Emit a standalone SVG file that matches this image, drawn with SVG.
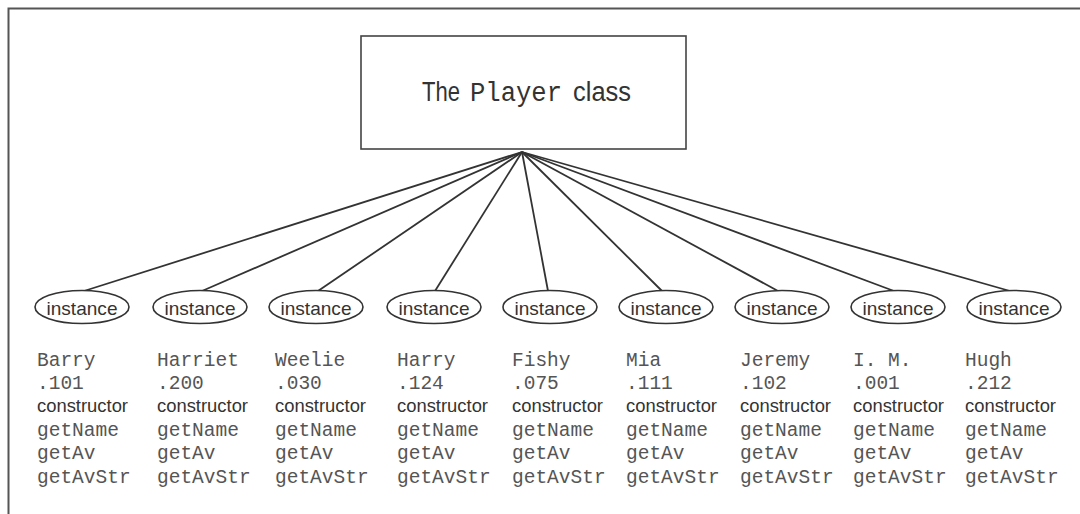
<svg xmlns="http://www.w3.org/2000/svg" width="1080" height="514" viewBox="0 0 1080 514">
<style>
.frame{fill:none;stroke:#555;stroke-width:2}
.box{fill:#fff;stroke:#444;stroke-width:1.6}
.conn{stroke:#333;stroke-width:1.8;fill:none}
.ell{fill:#fff;stroke:#333;stroke-width:1.6}
.sans{font-family:"Liberation Sans",Arial,sans-serif;fill:#333}
.mono{font-family:"Liberation Mono","Courier New",monospace;fill:#555;font-size:19.5px}
.inst{font-size:19px;text-anchor:middle}
.ctor{font-size:18px}
.title{font-size:27px;fill:#333}
</style>
<rect width="1080" height="514" fill="#fff"/>
<path class="frame" d="M8.5 514 V8.5 H1080"/>
<g id="player-class">
<rect class="box" x="361" y="36" width="325" height="113"/>
<text y="101"><tspan class="sans title" x="422" textLength="38" lengthAdjust="spacingAndGlyphs">The</tspan><tspan class="mono title" x="470" textLength="92" lengthAdjust="spacingAndGlyphs">Player</tspan><tspan class="sans title" x="573" textLength="58" lengthAdjust="spacingAndGlyphs">class</tspan></text>
</g>
<g id="connectors">
<line class="conn" x1="522" y1="152" x2="84" y2="291"/>
<line class="conn" x1="522" y1="152" x2="202" y2="291"/>
<line class="conn" x1="522" y1="152" x2="318" y2="291"/>
<line class="conn" x1="522" y1="152" x2="435" y2="291"/>
<line class="conn" x1="522" y1="152" x2="548" y2="291"/>
<line class="conn" x1="522" y1="152" x2="662" y2="291"/>
<line class="conn" x1="522" y1="152" x2="778" y2="291"/>
<line class="conn" x1="522" y1="152" x2="894" y2="291"/>
<line class="conn" x1="522" y1="152" x2="1010" y2="291"/>
</g>
<g id="inst-barry"><ellipse class="ell" cx="82" cy="307" rx="47" ry="16.5"/><text class="sans inst" x="82" y="315" textLength="71" lengthAdjust="spacingAndGlyphs">instance</text>
<text class="mono" x="37"><tspan x="37" y="366">Barry</tspan><tspan x="37" y="389">.101</tspan><tspan class="sans ctor" x="37" y="412" textLength="91" lengthAdjust="spacingAndGlyphs">constructor</tspan><tspan x="37" y="436">getName</tspan><tspan x="37" y="459">getAv</tspan><tspan x="37" y="483">getAvStr</tspan></text></g>
<g id="inst-harriet"><ellipse class="ell" cx="200" cy="307" rx="47" ry="16.5"/><text class="sans inst" x="200" y="315" textLength="71" lengthAdjust="spacingAndGlyphs">instance</text>
<text class="mono" x="157"><tspan x="157" y="366">Harriet</tspan><tspan x="157" y="389">.200</tspan><tspan class="sans ctor" x="157" y="412" textLength="91" lengthAdjust="spacingAndGlyphs">constructor</tspan><tspan x="157" y="436">getName</tspan><tspan x="157" y="459">getAv</tspan><tspan x="157" y="483">getAvStr</tspan></text></g>
<g id="inst-weelie"><ellipse class="ell" cx="316" cy="307" rx="47" ry="16.5"/><text class="sans inst" x="316" y="315" textLength="71" lengthAdjust="spacingAndGlyphs">instance</text>
<text class="mono" x="275"><tspan x="275" y="366">Weelie</tspan><tspan x="275" y="389">.030</tspan><tspan class="sans ctor" x="275" y="412" textLength="91" lengthAdjust="spacingAndGlyphs">constructor</tspan><tspan x="275" y="436">getName</tspan><tspan x="275" y="459">getAv</tspan><tspan x="275" y="483">getAvStr</tspan></text></g>
<g id="inst-harry"><ellipse class="ell" cx="434" cy="307" rx="47" ry="16.5"/><text class="sans inst" x="434" y="315" textLength="71" lengthAdjust="spacingAndGlyphs">instance</text>
<text class="mono" x="397"><tspan x="397" y="366">Harry</tspan><tspan x="397" y="389">.124</tspan><tspan class="sans ctor" x="397" y="412" textLength="91" lengthAdjust="spacingAndGlyphs">constructor</tspan><tspan x="397" y="436">getName</tspan><tspan x="397" y="459">getAv</tspan><tspan x="397" y="483">getAvStr</tspan></text></g>
<g id="inst-fishy"><ellipse class="ell" cx="550" cy="307" rx="47" ry="16.5"/><text class="sans inst" x="550" y="315" textLength="71" lengthAdjust="spacingAndGlyphs">instance</text>
<text class="mono" x="512"><tspan x="512" y="366">Fishy</tspan><tspan x="512" y="389">.075</tspan><tspan class="sans ctor" x="512" y="412" textLength="91" lengthAdjust="spacingAndGlyphs">constructor</tspan><tspan x="512" y="436">getName</tspan><tspan x="512" y="459">getAv</tspan><tspan x="512" y="483">getAvStr</tspan></text></g>
<g id="inst-mia"><ellipse class="ell" cx="666" cy="307" rx="47" ry="16.5"/><text class="sans inst" x="666" y="315" textLength="71" lengthAdjust="spacingAndGlyphs">instance</text>
<text class="mono" x="626"><tspan x="626" y="366">Mia</tspan><tspan x="626" y="389">.111</tspan><tspan class="sans ctor" x="626" y="412" textLength="91" lengthAdjust="spacingAndGlyphs">constructor</tspan><tspan x="626" y="436">getName</tspan><tspan x="626" y="459">getAv</tspan><tspan x="626" y="483">getAvStr</tspan></text></g>
<g id="inst-jeremy"><ellipse class="ell" cx="782" cy="307" rx="47" ry="16.5"/><text class="sans inst" x="782" y="315" textLength="71" lengthAdjust="spacingAndGlyphs">instance</text>
<text class="mono" x="740"><tspan x="740" y="366">Jeremy</tspan><tspan x="740" y="389">.102</tspan><tspan class="sans ctor" x="740" y="412" textLength="91" lengthAdjust="spacingAndGlyphs">constructor</tspan><tspan x="740" y="436">getName</tspan><tspan x="740" y="459">getAv</tspan><tspan x="740" y="483">getAvStr</tspan></text></g>
<g id="inst-im"><ellipse class="ell" cx="898" cy="307" rx="47" ry="16.5"/><text class="sans inst" x="898" y="315" textLength="71" lengthAdjust="spacingAndGlyphs">instance</text>
<text class="mono" x="853"><tspan x="853" y="366">I. M.</tspan><tspan x="853" y="389">.001</tspan><tspan class="sans ctor" x="853" y="412" textLength="91" lengthAdjust="spacingAndGlyphs">constructor</tspan><tspan x="853" y="436">getName</tspan><tspan x="853" y="459">getAv</tspan><tspan x="853" y="483">getAvStr</tspan></text></g>
<g id="inst-hugh"><ellipse class="ell" cx="1014" cy="307" rx="47" ry="16.5"/><text class="sans inst" x="1014" y="315" textLength="71" lengthAdjust="spacingAndGlyphs">instance</text>
<text class="mono" x="965"><tspan x="965" y="366">Hugh</tspan><tspan x="965" y="389">.212</tspan><tspan class="sans ctor" x="965" y="412" textLength="91" lengthAdjust="spacingAndGlyphs">constructor</tspan><tspan x="965" y="436">getName</tspan><tspan x="965" y="459">getAv</tspan><tspan x="965" y="483">getAvStr</tspan></text></g>
</svg>
